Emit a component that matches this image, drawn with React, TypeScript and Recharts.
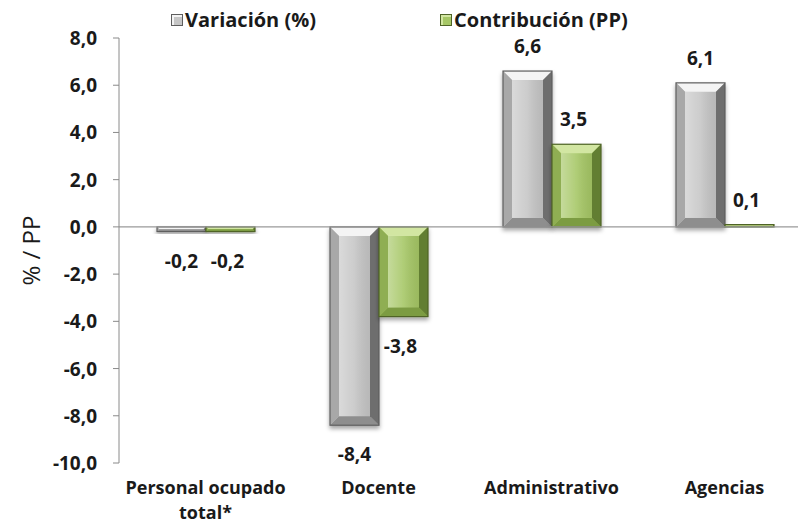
import React from 'react';
import { BarChart, Bar, XAxis, YAxis, ReferenceLine, Legend, LabelList } from 'recharts';

const categories = ['Personal ocupado total*', 'Docente', 'Administrativo', 'Agencias'];
const variacion = [-0.2, -8.4, 6.6, 6.1];
const contribucion = [-0.2, -3.8, 3.5, 0.1];
const yTicks = [-10, -8, -6, -4, -2, 0, 2, 4, 6, 8];
const seriesNames = ['Variación (%)', 'Contribución (PP)'];

const data = categories.map((c, i) => ({ name: c, variacion: variacion[i], contribucion: contribucion[i] }));

const FONT = '"Open Sans", Lato, sans-serif';

const fmt = (v: number) => v.toFixed(1).replace('.', ',');

const palettes: Record<string, any> = {
  gray: { face: '#c6c6c6', top: '#f4f4f4', left: '#a8a8a8', right: '#6e6e6e', bottom: '#8e8e8e', stroke: '#5e5e5e' },
  green: { face: '#a6c766', top: '#d2e6a2', left: '#8fae52', right: '#627e31', bottom: '#7c9c42', stroke: '#4f6427' },
};

const bevelShape = (pal: any) => (props: any) => {
  const { x, y, width, height } = props;
  if (width == null || height == null) return null;
  const y0 = Math.min(y, y + height);
  const h = Math.abs(height);
  const w = width;
  const b = Math.max(0, Math.min(9, w / 2, h / 2));
  const p = (pts: number[][]) => pts.map((q) => q.join(',')).join(' ');
  return (
    <g filter="url(#shadow)">
      <rect x={x} y={y0} width={w} height={h} fill={pal.face} />
      <polygon points={p([[x, y0], [x + w, y0], [x + w - b, y0 + b], [x + b, y0 + b]])} fill={pal.top} />
      <polygon points={p([[x, y0 + h], [x + w, y0 + h], [x + w - b, y0 + h - b], [x + b, y0 + h - b]])} fill={pal.bottom} />
      <polygon points={p([[x, y0], [x + b, y0 + b], [x + b, y0 + h - b], [x, y0 + h]])} fill={pal.left} />
      <polygon points={p([[x + w, y0], [x + w - b, y0 + b], [x + w - b, y0 + h - b], [x + w, y0 + h]])} fill={pal.right} />
      <rect x={x + b} y={y0 + b} width={Math.max(0, w - 2 * b)} height={Math.max(0, h - 2 * b)} fill="url(#faceGrad)" opacity={0.35} />
      <rect x={x} y={y0} width={w} height={h} fill="none" stroke={pal.stroke} strokeWidth={1.2} />
    </g>
  );
};

const valueLabel = (dxShift: number) => (props: any) => {
  const { x, y, width, height, value } = props;
  const y0 = Math.min(y, y + height);
  const h = Math.abs(height);
  const cx = x + width / 2 + dxShift;
  const ty = value >= 0 ? y0 - 18 : y0 + h + 36;
  return (
    <text x={cx} y={ty} textAnchor="middle" fontFamily={FONT} fontWeight={700} fontSize={19} fill="#1a1a1a">
      {fmt(value)}
    </text>
  );
};

const XTick = (props: any) => {
  const { x, y, payload } = props;
  const label: string = payload.value;
  const lines = label === 'Personal ocupado total*' ? ['Personal ocupado', 'total*'] : [label];
  return (
    <g>
      {lines.map((l, i) => (
        <text key={i} x={x} y={y + 23 + i * 25} textAnchor="middle" fontFamily={FONT} fontWeight={700} fontSize={18} fill="#1a1a1a">
          {l}
        </text>
      ))}
    </g>
  );
};

const YTick = (props: any) => {
  const { x, y, payload } = props;
  return (
    <text x={x} y={y} dy={7} textAnchor="end" fontFamily={FONT} fontWeight={700} fontSize={19} fill="#1a1a1a">
      {fmt(payload.value)}
    </text>
  );
};

const LegendContent = () => {
  const items = [
    { name: seriesNames[0], pal: palettes.gray, left: 171 },
    { name: seriesNames[1], pal: palettes.green, left: 440 },
  ];
  return (
    <div style={{ position: 'relative', height: 0, width: 798 }}>
      {items.map((it) => (
        <div key={it.name} style={{ position: 'absolute', left: it.left, top: 8, display: 'flex', alignItems: 'center', whiteSpace: 'nowrap' }}>
          <span style={{ display: 'inline-block', width: 10, height: 10, background: it.pal.face, border: `1px solid ${it.pal.stroke}`, boxShadow: `inset 2px 2px 0 ${it.pal.top}`, marginRight: 2 }} />
          <span style={{ fontFamily: FONT, fontWeight: 700, fontSize: 20, color: '#1a1a1a', lineHeight: '24px' }}>{it.name}</span>
        </div>
      ))}
    </div>
  );
};

const YLabel = (props: any) => {
  const { viewBox } = props;
  const cx = 30;
  const cy = viewBox.y + viewBox.height / 2;
  return (
    <text x={cx} y={cy} transform={`rotate(-90 ${cx} ${cy})`} textAnchor="middle" dominantBaseline="central" fontFamily={FONT} fontSize={24} fill="#1a1a1a">
      % / PP
    </text>
  );
};

export default function App() {
  return (
    <div style={{ position: 'absolute', left: 0, top: 0, width: 798, height: 528, overflow: 'hidden', background: '#fff' }}>
      <BarChart width={830} height={528} data={data} margin={{ top: 38, right: 19, bottom: 0, left: 0 }} barGap={0} barSize={49}>
        <defs>
          <filter id="shadow" x="-20%" y="-20%" width="140%" height="160%">
            <feDropShadow dx={0} dy={3} stdDeviation={2.2} floodColor="#000" floodOpacity={0.35} />
          </filter>
          <linearGradient id="faceGrad" x1="0" y1="0" x2="1" y2="0">
            <stop offset="0" stopColor="#ffffff" />
            <stop offset="0.5" stopColor="#ffffff" stopOpacity={0.3} />
            <stop offset="1" stopColor="#000000" stopOpacity={0.2} />
          </linearGradient>
        </defs>
        <Legend verticalAlign="top" align="left" wrapperStyle={{ top: 0, left: 0, width: 798, height: 0 }} content={<LegendContent />} />
        <XAxis dataKey="name" axisLine={false} tickLine={false} tick={<XTick />} height={65} interval={0} />
        <YAxis
          domain={[-10, 8]}
          ticks={yTicks}
          width={119}
          axisLine={{ stroke: '#8a8a8a' }}
          tickLine={{ stroke: '#8a8a8a' }}
          tickSize={6}
          tickMargin={16}
          tick={<YTick />}
          label={<YLabel />}
          interval={0}
        />
        <ReferenceLine y={0} stroke="#9a9a9a" strokeWidth={1.2} />
        <Bar dataKey="variacion" name={seriesNames[0]} isAnimationActive={false} shape={bevelShape(palettes.gray)}>
          <LabelList dataKey="variacion" content={valueLabel(0)} />
        </Bar>
        <Bar dataKey="contribucion" name={seriesNames[1]} isAnimationActive={false} shape={bevelShape(palettes.green)}>
          <LabelList dataKey="contribucion" content={valueLabel(-3)} />
        </Bar>
      </BarChart>
    </div>
  );
}
